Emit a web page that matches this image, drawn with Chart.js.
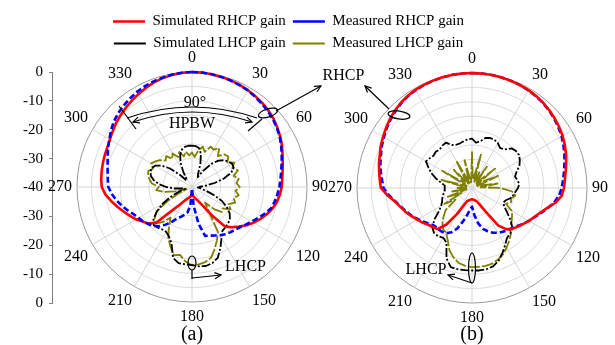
<!DOCTYPE html>
<html><head><meta charset="utf-8">
<script src="https://cdn.jsdelivr.net/npm/chart.js@4.4.1/dist/chart.umd.min.js"></script>
<style>
html,body{margin:0;padding:0;background:#fff;}
#wrap{position:relative;width:615px;height:345px;overflow:hidden;background:#fff;}
#wrap canvas{position:absolute;left:0;top:0;}
</style></head><body>
<div id="wrap">
<canvas id="cAxis" width="615" height="345"></canvas>
<canvas id="cA" width="615" height="345"></canvas>
<canvas id="cB" width="615" height="345"></canvas>
<canvas id="cLegend" width="615" height="345"></canvas>
</div>
<script>
// ---------------- data ----------------
const angleCategories = Array.from({length: 72}, (_, i) => String(i * 5)); // 0..355 deg, 5 deg step
const angleTickLabels = ['0','30','60','90','120','150','180','210','240','270','300','330'];
const axisTickLabels = ['0','-10','-20','-30','-40','-30','-20','-10','0'];
const seriesNames = ['Simulated RHCP gain','Measured RHCP gain','Simulated LHCP gain','Measured LHCP gain'];

// (a) gains in dB at 0,5,...,355 deg
const aSimRHCP = [0,-0.05,-0.15,-0.35,-0.55,-0.8,-1.1,-1.5,-1.9,-2.4,-3.0,-3.8,-4.6,-5.5,-6.5,-7.3,-8.0,-8.5,
 -8.8,-9.3,-10.0,-11.0,-12.3,-13.7,-15.2,-16.8,-18.6,-20.2,-22.0,-28.0,-32.5,-34.3,-35.4,-36.0,-36.6,-37.0,
 -37.2,-37.0,-36.6,-36.2,-35.8,-35.2,-34.2,-32.5,-29.5,-22.5,-20.2,-19.0,-17.5,-16.2,-14.8,-13.2,-11.5,-9.8,
 -8.6,-8.3,-8.1,-7.9,-7.7,-7.5,-7.0,-6.3,-5.5,-4.8,-4.1,-3.4,-2.7,-2.0,-1.3,-0.8,-0.4,-0.1];
const aMeasRHCP = [0,-0.05,-0.2,-0.4,-0.6,-0.9,-1.2,-1.7,-2.2,-2.7,-3.3,-4.0,-4.8,-5.8,-6.8,-7.7,-8.5,-9.1,
 -9.6,-10.2,-10.8,-11.5,-13.0,-14.6,-16.0,-17.2,-18.2,-18.9,-19.4,-19.9,-20.6,-21.4,-22.0,-22.4,-27.0,-33.5,
 -39.5,-33.5,-31.0,-30.0,-29.0,-28.0,-26.0,-24.0,-22.2,-20.8,-20.0,-19.2,-18.5,-17.6,-16.2,-14.8,-13.3,-12.0,
 -10.9,-10.6,-10.2,-9.6,-8.8,-7.8,-6.8,-5.6,-4.5,-3.7,-3.0,-2.4,-1.8,-1.3,-0.9,-0.6,-0.3,-0.1];
const aSimLHCP = [-25.6,-25.7,-26.2,-28,-31.5,-35,-36,-33,-29.5,-27,-25.5,-24.5,-23.9,-24,-25.5,-28.5,-32,-35.5,
 -37.5,-38,-37,-35,-32,-28.5,-26,-24,-22.8,-22.2,-21.8,-21.5,-19.5,-16.6,-13.8,-12.6,-12.1,-12.3,
 -12.8,-13.0,-13.1,-14.5,-19.2,-21.0,-22.0,-22.0,-21.5,-21.2,-22.5,-25,-28,-31.5,-35,-37.5,-37,-34,
 -31,-28.5,-26.5,-25.2,-24.6,-24.5,-25.2,-27,-30,-34,-37,-37,-34,-30.5,-28,-26.5,-25.8,-25.6];
const aMeasLHCP = [-28,-29.5,-27,-25.5,-27,-24.5,-25,-23.5,-26,-24,-23.5,-25,-23,-24.5,-23,-25,-23.5,-24.5,
 -23.4,-24.8,-23.5,-25,-24,-26,-24.5,-27,-26.5,-29,-33,-30,-22,-19.5,-17,-14.5,-13.5,-13,
 -12.8,-14,-16,-15.5,-18,-20.5,-24,-27,-24,-22,-23,-25,-30,-35,-38,-34,-30,-27.5,
 -28.5,-26,-25,-24.2,-23.8,-25,-23.6,-24.5,-25.5,-27,-26,-28,-26.5,-28.5,-27,-29,-27.5,-29];

// (b)
const bSimRHCP = [0,-0.05,-0.1,-0.2,-0.35,-0.5,-0.7,-1.0,-1.4,-1.9,-2.4,-3.0,-3.6,-4.4,-5.2,-6.1,-6.9,-7.6,
 -8.0,-8.7,-10.5,-13.0,-14.8,-16.1,-17.1,-18.2,-19.1,-20.0,-21.2,-24.0,-30.5,-33.5,-35.0,-35.5,-35.8,-36.0,
 -36.1,-36.0,-35.8,-35.5,-35.2,-33.5,-29.5,-24.5,-21.3,-20.8,-20.1,-19.0,-18.0,-16.8,-15.5,-14.3,-12.8,-10.5,
 -8.3,-7.8,-7.2,-6.5,-5.9,-5.0,-4.3,-3.5,-2.7,-2.0,-1.4,-0.9,-0.6,-0.4,-0.25,-0.15,-0.05,0];
const bMeasRHCP = [0,-0.05,-0.1,-0.2,-0.35,-0.5,-0.8,-1.1,-1.5,-2.0,-2.6,-3.3,-4.0,-4.9,-5.8,-6.7,-7.5,-8.2,
 -8.8,-9.6,-11.0,-12.8,-14.5,-16.0,-17.2,-18.3,-19.4,-20.3,-20.8,-21.4,-22.0,-22.8,-24.0,-25.3,-27.5,-30.5,
 -33.5,-32.5,-30.5,-28.0,-25.0,-23.0,-21.8,-21.5,-21.5,-21.5,-20.6,-19.5,-18.3,-17.0,-15.8,-14.5,-13.0,-11.0,
 -9.2,-8.6,-7.8,-7.0,-6.3,-5.4,-4.6,-3.8,-3.0,-2.3,-1.6,-1.1,-0.7,-0.5,-0.3,-0.15,-0.05,0];
const bSimLHCP = [-22.8,-24.2,-23.5,-22,-21.5,-21.5,-22,-23,-22.5,-20.5,-20,-20,-20.8,-21.8,-23.5,-24.5,-24,-23.5,
 -24,-24.8,-25.5,-26.2,-27.5,-28,-27,-25,-22.5,-20,-19.3,-18.8,-17,-15,-13,-11.8,-11.3,-11.2,
 -11.3,-11.3,-11.3,-11.5,-14,-19,-20,-19.5,-19.5,-20.5,-22.9,-26,-27.6,-28.5,-29,-29.5,-30,-30.5,
 -30.5,-30.5,-29,-27,-25,-23.3,-21.5,-22,-22.5,-22.2,-22.5,-22,-21.8,-23.5,-24,-23.9,-23.5,-23];
const bMeasLHCP = [-27.5,-37,-36,-28,-38,-34,-37,-31,-38,-36,-29.5,-38,-35,-30,-38,-36,-31,-37,
 -30,-26,-24.7,-26,-25.5,-27,-24,-23,-22,-21,-19,-17.5,-16,-14.5,-13.5,-12.8,-12.5,-12.5,
 -12.5,-12.8,-13.5,-15,-17,-20,-22,-22.5,-24,-26,-28,-33,-29,-36,-31,-38,-33,-38,
 -35,-38,-36,-29,-38,-37,-28,-37,-36,-31,-38,-35,-29,-38,-36,-30,-38,-37];

// ---------------- style ----------------
const FONT = '"Liberation Serif", "Times New Roman", serif';
Chart.defaults.font.family = FONT;
Chart.defaults.color = '#000';
const STY = [
  {color:'#ff0000', width:2.6, dash:[],          legendDash:[]},
  {color:'#0000ff', width:2.6, dash:[6,3],       legendDash:[14,4]},
  {color:'#000000', width:1.8, dash:[9,2,2,2],   legendDash:[13,2,2,2]},
  {color:'#7f7f00', width:1.8, dash:[12,2],      legendDash:[14,4]}
];

function mkDatasets(arrs, orders) {
  return arrs.map((d, i) => ({
    label: seriesNames[i], data: d,
    borderColor: STY[i].color, backgroundColor: STY[i].color,
    borderWidth: STY[i].width, borderDash: STY[i].dash,
    pointRadius: 0, fill: false, tension: 0, order: orders[i],
    borderJoinStyle: 'round'
  }));
}

// ---------- drawing helpers for annotations ----------
function seg(ctx, a, b) { ctx.beginPath(); ctx.moveTo(a[0], a[1]); ctx.lineTo(b[0], b[1]); ctx.stroke(); }
function head(ctx, tip, dir, size) {
  const ang = Math.atan2(dir[1], dir[0]);
  ctx.beginPath();
  ctx.moveTo(tip[0] - size * Math.cos(ang - 0.45), tip[1] - size * Math.sin(ang - 0.45));
  ctx.lineTo(tip[0], tip[1]);
  ctx.lineTo(tip[0] - size * Math.cos(ang + 0.45), tip[1] - size * Math.sin(ang + 0.45));
  ctx.stroke();
}
function arrow(ctx, a, b) { seg(ctx, a, b); head(ctx, b, [b[0]-a[0], b[1]-a[1]], 7); }
function ell(ctx, c, rx, ry, rot) { ctx.beginPath(); ctx.ellipse(c[0], c[1], rx, ry, rot, 0, Math.PI*2); ctx.stroke(); }
function txt(ctx, s, c, size) {
  ctx.font = size + 'px ' + FONT; ctx.textAlign = 'center'; ctx.textBaseline = 'middle';
  ctx.fillText(s, c[0], c[1]);
}

const annotA = {
  id: 'annotA',
  afterDraw(chart) {
    const s = chart.scales.r, ctx = chart.ctx;
    const P = (dx, dy) => [s.xCenter + dx, s.yCenter + dy];
    ctx.save();
    ctx.strokeStyle = '#000'; ctx.fillStyle = '#000'; ctx.lineWidth = 1.2; ctx.setLineDash([]);
    txt(ctx, '90°', P(3, -84), 16);
    txt(ctx, 'HPBW', P(0, -63), 16);
    ctx.beginPath(); const u0 = P(-65,-69), uc = P(0,-91), u1 = P(65,-69);
    ctx.moveTo(u0[0],u0[1]); ctx.quadraticCurveTo(uc[0],uc[1],u1[0],u1[1]); ctx.stroke();
    ctx.beginPath(); const l0 = P(-59,-65), lc = P(0,-85), l1 = P(60,-65);
    ctx.moveTo(l0[0],l0[1]); ctx.quadraticCurveTo(lc[0],lc[1],l1[0],l1[1]); ctx.stroke();
    head(ctx, l0, [l0[0]-lc[0], l0[1]-lc[1]], 7);
    head(ctx, l1, [l1[0]-lc[0], l1[1]-lc[1]], 7);
    seg(ctx, P(-73,-81), P(-56,-58));
    seg(ctx, P(70,-68), P(56,-56));
    ell(ctx, P(76,-74), 10, 4, -0.3);
    arrow(ctx, P(84,-76), P(129,-101));
    ell(ctx, P(0,76), 4, 7, 0);
    seg(ctx, P(0,83), P(0,92));
    arrow(ctx, P(0,91), P(29,88));
    txt(ctx, 'LHCP', P(53.5, 80), 16);
    txt(ctx, '(a)', P(0, 148), 20);
    ctx.restore();
  }
};
const annotB = {
  id: 'annotB',
  afterDraw(chart) {
    const s = chart.scales.r, ctx = chart.ctx;
    const P = (dx, dy) => [s.xCenter + dx, s.yCenter + dy];
    ctx.save();
    ctx.strokeStyle = '#000'; ctx.fillStyle = '#000'; ctx.lineWidth = 1.2; ctx.setLineDash([]);
    txt(ctx, 'RHCP', P(-128.5, -112), 16);
    ell(ctx, P(-73,-73), 11, 4, 0.15);
    arrow(ctx, P(-83,-79), P(-107,-102));
    ell(ctx, P(0,80), 3.5, 15, 0);
    arrow(ctx, P(0,95), P(-24,87));
    txt(ctx, 'LHCP', P(-46, 82), 16);
    txt(ctx, '(b)', P(0, 147), 20);
    ctx.restore();
  }
};

function radarOptions(pad) {
  return {
    responsive: false, animation: false, events: [],
    layout: {padding: pad},
    plugins: {legend: {display: false}, tooltip: {enabled: false}},
    scales: {
      r: {
        min: -40, max: 0,
        ticks: {display: false, stepSize: 5},
        grid: {circular: true, color: c => (c.tick && c.tick.value === 0) ? '#9a9a9a' : '#dcdcdc', lineWidth: 1},
        angleLines: {display: true, color: '#d4d4d4', lineWidth: c => (c.index % 6 === 0 ? 1 : 0)},
        pointLabels: {
          display: true, padding: 5, color: '#000',
          font: {family: FONT, size: 16},
          callback: (label, i) => (i % 6 === 0 ? angleTickLabels[i / 6] : '')
        }
      }
    }
  };
}

new Chart(document.getElementById('cA'), {
  type: 'radar',
  data: {labels: angleCategories, datasets: mkDatasets([aSimRHCP, aMeasRHCP, aSimLHCP, aMeasLHCP], [1, 0, 2, 3])},
  options: radarOptions({left: 44, top: 43, right: 283, bottom: 14}),
  plugins: [annotA]
});
new Chart(document.getElementById('cB'), {
  type: 'radar',
  data: {labels: angleCategories, datasets: mkDatasets([bSimRHCP, bMeasRHCP, bSimLHCP, bMeasLHCP], [0, 1, 2, 3])},
  options: radarOptions({left: 324, top: 44, right: 3, bottom: 13}),
  plugins: [annotB]
});

// left dB axis
new Chart(document.getElementById('cAxis'), {
  type: 'line',
  data: {labels: [], datasets: []},
  options: {
    responsive: false, animation: false, events: [],
    layout: {padding: {left: 17, top: 72, bottom: 42, right: 500}},
    plugins: {legend: {display: false}, tooltip: {enabled: false}},
    scales: {
      x: {display: false},
      y: {
        min: -40, max: 40,
        ticks: {stepSize: 10, padding: 6, color: '#000', font: {family: FONT, size: 15},
                callback: (v, i) => axisTickLabels[8 - i]},
        grid: {drawOnChartArea: false, drawTicks: true, tickLength: 4, color: '#808080'},
        border: {display: true, color: '#808080'}
      }
    }
  }
});

// legend
new Chart(document.getElementById('cLegend'), {
  type: 'line',
  data: {labels: [], datasets: seriesNames.map((n, i) => ({
    label: n, data: [], borderColor: STY[i].color, backgroundColor: STY[i].color,
    borderWidth: STY[i].width, borderDash: STY[i].legendDash
  }))},
  options: {
    responsive: false, animation: false, events: [],
    layout: {padding: {top: 7, left: 78, right: 116, bottom: 0}},
    scales: {x: {display: false}, y: {display: false}},
    plugins: {
      tooltip: {enabled: false},
      legend: {display: true, position: 'top',
        labels: {usePointStyle: true, pointStyle: 'line', pointStyleWidth: 32, padding: 7,
                 color: '#000', font: {family: FONT, size: 15}}}
    }
  }
});
</script>
</body></html>
